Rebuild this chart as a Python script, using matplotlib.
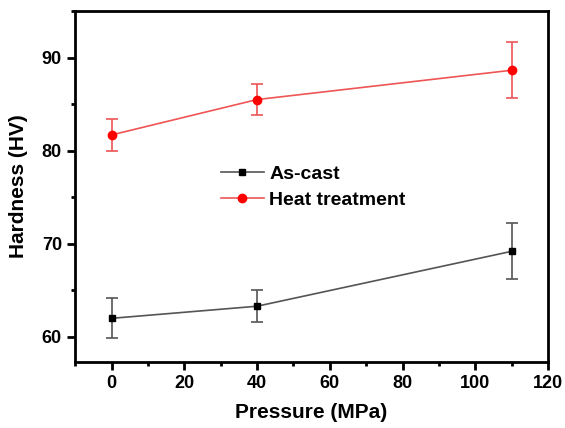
import matplotlib
matplotlib.use("Agg")
import matplotlib.pyplot as plt
from matplotlib.ticker import MultipleLocator

plt.rcParams['font.family'] = ['Liberation Sans', 'DejaVu Sans']
plt.rcParams['font.weight'] = 'bold'

pressure = [0, 40, 110]
ascast = [62.0, 63.3, 69.2]
ascast_err = [2.15, 1.7, 3.0]
heat = [81.7, 85.5, 88.65]
heat_err = [1.7, 1.7, 3.0]

fig = plt.figure(figsize=(5.65, 4.28), dpi=100)
ax = fig.add_axes([0.133, 0.154, 0.837, 0.820])

eb1 = ax.errorbar(pressure, ascast, yerr=ascast_err, color='#555555', lw=1.2,
                  marker='s', ms=5, mfc='black', mec='black', ecolor='#555555',
                  elinewidth=1.2, capsize=4, capthick=1.2, label='As-cast')
eb2 = ax.errorbar(pressure, heat, yerr=heat_err, color='#ee5555', lw=1.2,
                  marker='o', ms=6, mfc='red', mec='red', ecolor='#ee5555',
                  elinewidth=1.2, capsize=4, capthick=1.2, label='Heat treatment')

ax.set_xlim(-10, 120)
ax.set_ylim(57.3, 95)
ax.xaxis.set_major_locator(MultipleLocator(20))
ax.xaxis.set_minor_locator(MultipleLocator(10))
ax.yaxis.set_major_locator(MultipleLocator(10))
ax.yaxis.set_minor_locator(MultipleLocator(5))
ax.tick_params(which='major', direction='out', length=6, width=2, labelsize=13)
ax.tick_params(which='minor', direction='out', length=3, width=2)
ax.tick_params(top=False, right=False)
for s in ax.spines.values():
    s.set_linewidth(2)

ax.set_xlabel('Pressure (MPa)', fontsize=15, fontweight='bold', labelpad=8)
ax.set_ylabel('Hardness (HV)', fontsize=15, fontweight='bold', labelpad=10)

ax.legend(handles=[eb1[0], eb2[0]], labels=['As-cast', 'Heat treatment'],
          loc='upper left', bbox_to_anchor=(0.271, 0.61), frameon=False,
          fontsize=14, handlelength=2.2, handletextpad=0.3, labelspacing=0.4)

fig.savefig('out.png', dpi=100)
